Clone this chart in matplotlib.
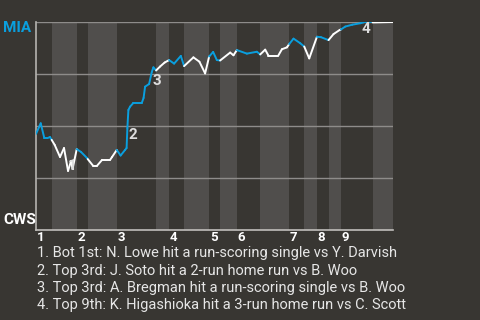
import numpy as np
import matplotlib
matplotlib.use("Agg")
import matplotlib.pyplot as plt
from matplotlib.collections import LineCollection
from matplotlib.transforms import ScaledTranslation

plt.rcParams['font.family'] = ['Roboto', 'DejaVu Sans']

# ---- data (game progress in plays, MIA win probability) ----
play = [0, 1.57, 2.77, 3.83, 4.67, 5.23, 6.23, 8, 9.33, 10.67, 11.67, 12.17, 13.57,
        15, 17, 17.23, 19, 20.33, 22, 24.67, 25.33, 26.9, 28.17, 29.67, 30.17, 30.43,
        30.77, 31.33, 32.43, 35.23, 35.83, 36.33, 37.67, 38.57, 39.1, 40, 41.33, 42.83,
        44.33, 46, 48.23, 49.33, 52.43, 54.43, 56.33, 57.67, 59, 60.23, 61.33, 64.67,
        65.77, 66.9, 70.23, 73.57, 74.67, 76.33, 77.43, 80.67, 81.9, 83.57, 84.33, 85.77,
        88, 89.33, 91, 93.57, 94.9, 97.43, 99.1, 101.17, 101.57, 103, 105.33, 108, 109.1,
        112.1, 118.9]
mia_wp = [0.462, 0.513, 0.442, 0.442, 0.447, 0.433, 0.409, 0.351, 0.394, 0.284, 0.332,
          0.293, 0.389, 0.375, 0.346, 0.341, 0.309, 0.309, 0.337, 0.337, 0.351, 0.385,
          0.358, 0.385, 0.394, 0.490, 0.577, 0.593, 0.611, 0.611, 0.635, 0.689, 0.702,
          0.760, 0.782, 0.767, 0.786, 0.805, 0.817, 0.800, 0.837, 0.788, 0.830, 0.809,
          0.753, 0.834, 0.856, 0.817, 0.815, 0.853, 0.840, 0.865, 0.848, 0.857, 0.844,
          0.867, 0.838, 0.838, 0.869, 0.878, 0.894, 0.920, 0.898, 0.882, 0.825, 0.929,
          0.927, 0.913, 0.942, 0.962, 0.964, 0.978, 0.987, 0.994, 0.998, 0.998, 1.0]

# half-inning start positions (top 1st, bot 1st, top 2nd, ...), plus game end
half_starts = [0, 5.23, 13.57, 17.23, 26.9, 40, 44.33, 49.33, 57.67, 61.33, 66.9,
               74.67, 84.33, 89.33, 93.57, 97.43, 101.57, 112.1]
game_end = 118.9
innings = ['1', '2', '3', '4', '5', '6', '7', '8', '9']

event_ids = ['1', '2', '3', '4']
event_x = [12, 32.33, 40.33, 109.83]
event_y = [0.31, 0.459, 0.714, 0.964]
event_notes = [
    "1. Bot 1st: N. Lowe hit a run-scoring single vs Y. Darvish",
    "2. Top 3rd: J. Soto hit a 2-run home run vs B. Woo",
    "3. Top 3rd: A. Bregman hit a run-scoring single vs B. Woo",
    "4. Top 9th: K. Higashioka hit a 3-run home run vs C. Scott",
]

BG = '#383632'
BAND = '#504e4c'
BLUE = '#0a9fde'
WHITE = '#ffffff'

fig = plt.figure(figsize=(4.8, 3.2), dpi=100, facecolor=BG)
ax = fig.add_axes([36/480, 90/320, 357/480, 208/320], facecolor=BG)

edges = list(half_starts) + [game_end]
for i in range(len(half_starts)):
    if i % 2 == 1:
        ax.axvspan(edges[i], edges[i+1], color=BAND, lw=0, zorder=0)

for yv in [0.25, 0.5, 0.75, 1.0]:
    ax.axhline(yv, color='#8e8c8a', lw=1.0, zorder=1)

x = np.array(play)
y = np.array(mia_wp)
pts = np.column_stack([x, y])
segs = np.stack([pts[:-1], pts[1:]], axis=1)
mids = (x[:-1] + x[1:]) / 2
half_idx = np.searchsorted(np.array(half_starts), mids, side='right') - 1
colors = [BLUE if h % 2 == 0 else WHITE for h in half_idx]
lc = LineCollection(segs, colors=colors, linewidths=1.4, capstyle='round',
                    joinstyle='round', zorder=3)
ax.add_collection(lc)

for t, ex, ey in zip(event_ids, event_x, event_y):
    ax.text(ex, ey, t, color='#dedede', fontsize=11, fontweight='bold',
            ha='center', va='center', zorder=4)

ax.set_xlim(0, game_end)
ax.set_ylim(0, 1)
ax.set_yticks([])
ax.set_xticks(half_starts[0::2])
ax.set_xticklabels(innings)
ax.tick_params(axis='x', length=0, pad=1, labelsize=9.5, labelcolor=WHITE)
for lab in ax.get_xticklabels():
    lab.set_fontweight('bold')
    lab.set_transform(lab.get_transform() + ScaledTranslation(4.5/100, 0, fig.dpi_scale_trans))

for s in ['top', 'right']:
    ax.spines[s].set_visible(False)
ax.spines['left'].set_color('#b5b3b0')
ax.spines['bottom'].set_color('#c0bebb')
ax.spines['left'].set_linewidth(1.2)
ax.spines['bottom'].set_linewidth(1.2)

fig.text(3/480, 1 - 28/320, 'MIA', color=BLUE, fontsize=11, fontweight='bold',
         ha='left', va='center')
fig.text(3/480, 1 - 220/320, 'CWS', color=WHITE, fontsize=11, fontweight='bold',
         ha='left', va='center')

for i, note in enumerate(event_notes):
    fig.text(37/480, 1 - (253 + i*17.5)/320, note, color='#e6e6e6', fontsize=10.5,
             ha='left', va='center')

fig.savefig('out.png', dpi=100, facecolor=BG)
